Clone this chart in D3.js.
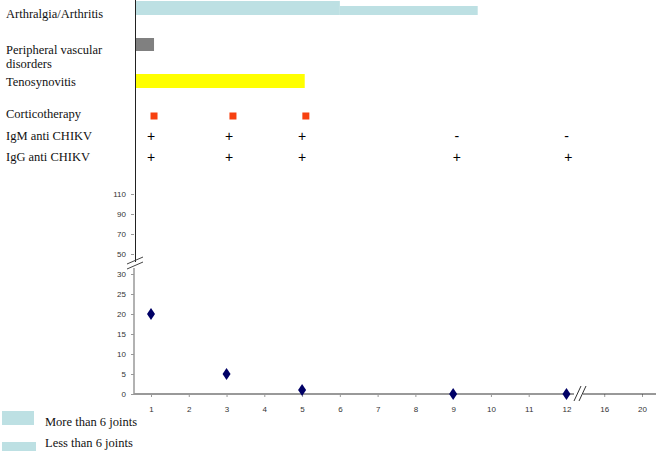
<!DOCTYPE html>
<html><head><meta charset="utf-8">
<script src="https://cdn.jsdelivr.net/npm/d3@7"></script>
<style>body{margin:0;background:#fff}svg{display:block}</style>
</head><body>
<script>
// ---- data ----
const months = ["1","2","3","4","5","6","7","8","9","10","11","12","16","20"];
const yTicksLow = [0,5,10,15,20,25,30];
const yTicksHigh = [50,70,90,110];
const scoreMonths = [1,3,5,9,12];
const scoreValues = [20,5,1,0,0];
const rowLabels = ["Arthralgia/Arthritis","Peripheral vascular|disorders","Tenosynovitis","Corticotherapy","IgM anti CHIKV","IgG anti CHIKV"];
const arthMore = [0.6, 6.0];
const arthLess = [6.0, 9.65];
const vascular = [0.6, 1.08];
const teno = [0.6, 5.07];
const cortico = [1.08, 3.17, 5.1];
const igmTimes = [1, 3.07, 5, 9.1, 12];
const igmSigns = ["+","+","+","-","-"];
const iggTimes = [1, 3.07, 5, 9.1, 12.05];
const iggSigns = ["+","+","+","+","+"];
const legendLabels = ["More than 6 joints","Less than 6 joints"];

// ---- scales ----
const W=656,H=452;
const SERIF='"Liberation Serif"', SANS='"Liberation Sans"';
const svg=d3.select("body").append("svg").attr("width",W).attr("height",H);
const x=d3.scalePoint().domain(months).range([151,642]);
const xt=d3.scaleLinear().domain([1,12]).range([x("1"),x("12")]);
const yLow=d3.scaleLinear().domain([0,30]).range([394,274]);
const yHigh=d3.scaleLinear().domain([50,110]).range([254,194]);
const lightBlue="#bde0e3";

// ---- row labels ----
const labelY=[18,54,86,118,140,161];
rowLabels.forEach((l,i)=>{
  const t=svg.append("text").attr("x",6).attr("y",labelY[i]).style("font-family",SERIF).style("font-size","12.5px").attr("fill","#111");
  l.split("|").forEach((p,j)=>t.append("tspan").attr("x",6).attr("dy",j?14:0).text(p));
});

// ---- timeline bars ----
svg.append("rect").attr("x",xt(arthMore[0])).attr("y",1).attr("width",xt(arthMore[1])-xt(arthMore[0])).attr("height",14).attr("fill",lightBlue);
svg.append("rect").attr("x",xt(arthLess[0])).attr("y",6).attr("width",xt(arthLess[1])-xt(arthLess[0])).attr("height",9).attr("fill",lightBlue);
svg.append("rect").attr("x",xt(vascular[0])).attr("y",38).attr("width",xt(vascular[1])-xt(vascular[0])).attr("height",13).attr("fill","#808080");
svg.append("rect").attr("x",xt(teno[0])).attr("y",74).attr("width",xt(teno[1])-xt(teno[0])).attr("height",14).attr("fill","#ffff00");
svg.selectAll(".cort").data(cortico).enter().append("rect")
  .attr("x",d=>xt(d)-3.5).attr("y",112.5).attr("width",7).attr("height",7).attr("fill","#f7400f");
svg.selectAll(".igm").data(igmTimes).enter().append("text")
  .attr("x",d=>xt(d)).attr("y",141).attr("text-anchor","middle").style("font-family",SANS).style("font-size","14px").attr("fill","#000")
  .text((d,i)=>igmSigns[i]);
svg.selectAll(".igg").data(iggTimes).enter().append("text")
  .attr("x",d=>xt(d)).attr("y",162).attr("text-anchor","middle").style("font-family",SANS).style("font-size","14px").attr("fill","#000")
  .text((d,i)=>iggSigns[i]);

// ---- upper axis line ----
svg.append("line").attr("x1",135.5).attr("x2",135.5).attr("y1",0).attr("y2",262).attr("stroke","#222").attr("stroke-width",1);

// ---- y axes ----
function styleAxis(g){
  g.select(".domain").remove();
  g.selectAll(".tick line").attr("stroke","#999");
  g.selectAll(".tick text").style("font-family",SANS).style("font-size","8px").attr("fill","#333");
}
svg.append("g").attr("transform","translate(134,0)").call(d3.axisLeft(yHigh).tickValues(yTicksHigh).tickSize(3).tickPadding(5)).call(styleAxis);
svg.append("g").attr("transform","translate(134,0)").call(d3.axisLeft(yLow).tickValues(yTicksLow).tickSize(3).tickPadding(5)).call(styleAxis);
svg.append("line").attr("x1",134).attr("x2",134).attr("y1",268).attr("y2",394).attr("stroke","#999").attr("stroke-width",1.5);
// y break marks
[0,5].forEach(o=>svg.append("line").attr("x1",127).attr("y1",264+o).attr("x2",143).attr("y2",257+o).attr("stroke","#444").attr("stroke-width",1));

// ---- x axis ----
const xa=svg.append("g").attr("transform","translate(0,394)").call(d3.axisBottom(x).tickSize(3).tickPadding(9));
xa.select(".domain").remove();
xa.selectAll(".tick line").attr("stroke","#999");
xa.selectAll(".tick text").style("font-family",SANS).style("font-size","8px").attr("fill","#333");
svg.append("line").attr("x1",134).attr("x2",574).attr("y1",394).attr("y2",394).attr("stroke","#999").attr("stroke-width",2);
svg.append("line").attr("x1",583).attr("x2",656).attr("y1",394).attr("y2",394).attr("stroke","#333").attr("stroke-width",1);
[0,5].forEach(o=>svg.append("line").attr("x1",574+o).attr("y1",401).attr("x2",581+o).attr("y2",386).attr("stroke","#333").attr("stroke-width",1));

// ---- points ----
svg.selectAll(".pt").data(scoreMonths).enter().append("path")
  .attr("d","M0,-6L4,0L0,6L-4,0Z")
  .attr("transform",(d,i)=>`translate(${x(String(d))},${yLow(scoreValues[i])})`)
  .attr("fill","#000066");

// ---- legend ----
svg.append("rect").attr("x",2).attr("y",411).attr("width",32).attr("height",14).attr("fill",lightBlue);
svg.append("rect").attr("x",2).attr("y",442).attr("width",34).attr("height",9).attr("fill",lightBlue);
svg.append("text").attr("x",45).attr("y",426).style("font-family",SERIF).style("font-size","12.5px").attr("fill","#111").text(legendLabels[0]);
svg.append("text").attr("x",45).attr("y",447).style("font-family",SERIF).style("font-size","12.5px").attr("fill","#111").text(legendLabels[1]);
</script>
</body></html>
